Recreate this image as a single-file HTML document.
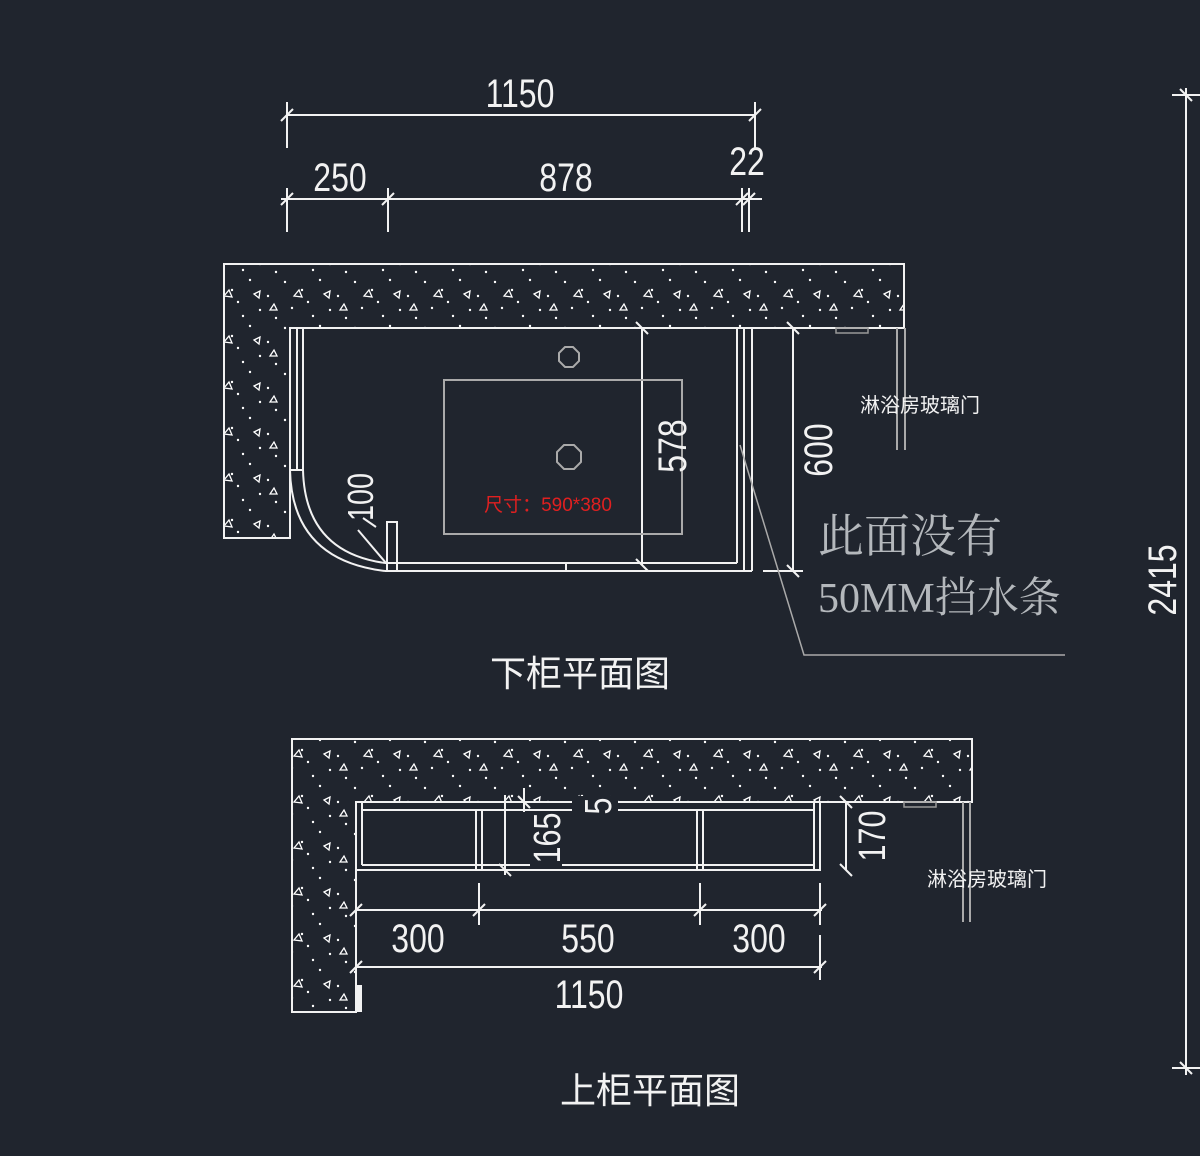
<!DOCTYPE html>
<html><head><meta charset="utf-8">
<style>
html,body{margin:0;padding:0;background:#20252e;}
svg{display:block}
.d{font-family:"Liberation Sans","Noto Sans CJK SC",sans-serif;fill:none;stroke:#f2f2f2;stroke-width:2;font-size:40px;}
.t{font-family:"Liberation Sans",sans-serif;fill:#f2f2f2;font-size:40px;}
.c{font-family:"Liberation Sans","Noto Sans CJK SC",sans-serif;fill:#f2f2f2;}
</style></head><body>
<svg width="1200" height="1156" viewBox="0 0 1200 1156" xmlns="http://www.w3.org/2000/svg">
<defs>
<pattern id="sp" width="70" height="46" patternUnits="userSpaceOnUse">
<circle cx="5" cy="6" r="1.2" fill="#fff"/><circle cx="22" cy="14" r="1.2" fill="#fff"/>
<circle cx="40" cy="4" r="1.2" fill="#fff"/><circle cx="58" cy="20" r="1.2" fill="#fff"/>
<circle cx="12" cy="32" r="1.2" fill="#fff"/><circle cx="33" cy="40" r="1.2" fill="#fff"/>
<circle cx="50" cy="34" r="1.2" fill="#fff"/><circle cx="66" cy="42" r="1.2" fill="#fff"/>
<circle cx="28" cy="26" r="1.2" fill="#fff"/>
<path d="M44 18 l6 -3 l-1 7 z" fill="none" stroke="#fff" stroke-width="1.3"/>
<path d="M14 20 l5 -6 l3 7 z" fill="none" stroke="#fff" stroke-width="1.3"/>
<path d="M60 34 l4 -6 l3 6 z" fill="none" stroke="#fff" stroke-width="1.3"/>
</pattern>
</defs>
<rect width="1200" height="1156" fill="#20252e"/>

<!-- LOWER: concrete L -->
<path d="M224 264 H904 V328 H290 V538 H224 Z" fill="url(#sp)" stroke="#f2f2f2" stroke-width="2"/>
<g class="d">
<line x1="287" y1="115" x2="755" y2="115"/>
<line x1="287" y1="102" x2="287" y2="148"/><line x1="755" y1="102" x2="755" y2="148"/>
<line x1="281" y1="121" x2="293" y2="109"/><line x1="749" y1="121" x2="761" y2="109"/>
<line x1="281" y1="199" x2="762" y2="199"/>
<line x1="287" y1="188" x2="287" y2="232"/><line x1="388" y1="188" x2="388" y2="232"/>
<line x1="742" y1="188" x2="742" y2="232"/><line x1="749" y1="188" x2="749" y2="232"/>
<line x1="281" y1="205" x2="293" y2="193"/><line x1="382" y1="205" x2="394" y2="193"/>
<line x1="736" y1="205" x2="748" y2="193"/><line x1="743" y1="205" x2="755" y2="193"/>
<path d="M290 328 V470 H303 V328"/><line x1="297" y1="328" x2="297" y2="470"/>
<path d="M290 470 Q292 560 385 571"/><path d="M303 470 Q305 552 385 563"/>
<line x1="385" y1="571" x2="752" y2="571"/><line x1="385" y1="563" x2="737" y2="563"/>
<line x1="566" y1="563" x2="566" y2="571"/>
<rect x="387" y="522" width="10" height="49"/>
<line x1="737" y1="328" x2="737" y2="563"/><line x1="744" y1="328" x2="744" y2="571"/><line x1="752" y1="328" x2="752" y2="571"/>
<line x1="793" y1="328" x2="793" y2="571"/><line x1="763" y1="571" x2="803" y2="571"/>
<line x1="787" y1="322" x2="799" y2="334"/><line x1="787" y1="565" x2="799" y2="577"/>
<line x1="642" y1="328" x2="642" y2="565"/>
<line x1="636" y1="322" x2="648" y2="334"/><line x1="636" y1="559" x2="648" y2="571"/>
<line x1="363" y1="518" x2="376" y2="527"/><line x1="358" y1="530" x2="386" y2="563"/>
</g>
<rect x="444" y="380" width="238" height="154" fill="none" stroke="#aaa" stroke-width="2"/>
<polygon points="565,347 573,347 579,353 579,361 573,367 565,367 559,361 559,353" fill="none" stroke="#aaa" stroke-width="2"/>
<polygon points="564,445 574,445 581,452 581,462 574,469 564,469 557,462 557,452" fill="none" stroke="#aaa" stroke-width="2"/>
<line x1="897" y1="328" x2="897" y2="450" stroke="#aaa" stroke-width="2"/><line x1="905" y1="328" x2="905" y2="450" stroke="#aaa" stroke-width="2"/>
<rect x="836" y="328" width="32" height="5" fill="none" stroke="#999" stroke-width="1.5"/>
<polyline points="740,445 804,655 1065,655" fill="none" stroke="#aaa" stroke-width="1.5"/>

<g class="d">
<line x1="1186" y1="88" x2="1186" y2="1075"/>
<line x1="1172" y1="95" x2="1200" y2="95"/><line x1="1172" y1="1068" x2="1200" y2="1068"/>
<line x1="1180" y1="89" x2="1192" y2="101"/><line x1="1180" y1="1062" x2="1192" y2="1074"/>
</g>

<!-- UPPER -->
<path d="M292 739 H972 V802 H356 V1012 H292 Z" fill="url(#sp)" stroke="#f2f2f2" stroke-width="2"/>
<rect x="356" y="985" width="6" height="27" fill="#f2f2f2"/>
<g class="d">
<rect x="356" y="802" width="464" height="68"/>
<line x1="362" y1="810" x2="814" y2="810"/><line x1="362" y1="865" x2="814" y2="865"/>
<line x1="362" y1="802" x2="362" y2="865"/><line x1="814" y1="802" x2="814" y2="870"/>
<line x1="476" y1="810" x2="476" y2="870"/><line x1="482" y1="810" x2="482" y2="870"/>
<line x1="697" y1="810" x2="697" y2="870"/><line x1="703" y1="810" x2="703" y2="870"/>
<line x1="846" y1="802" x2="846" y2="870"/>
<line x1="840" y1="796" x2="852" y2="808"/><line x1="840" y1="864" x2="852" y2="876"/>
<line x1="505" y1="795" x2="505" y2="875"/>
<line x1="499" y1="864" x2="511" y2="876"/><line x1="518" y1="796" x2="530" y2="808"/>
<line x1="524" y1="788" x2="524" y2="812"/>
<line x1="356" y1="910" x2="822" y2="910"/><line x1="356" y1="967" x2="822" y2="967"/>
<line x1="479" y1="883" x2="479" y2="925"/><line x1="700" y1="883" x2="700" y2="925"/>
<line x1="820" y1="883" x2="820" y2="925"/><line x1="820" y1="935" x2="820" y2="980"/>
<line x1="350" y1="916" x2="362" y2="904"/><line x1="473" y1="916" x2="485" y2="904"/>
<line x1="694" y1="916" x2="706" y2="904"/><line x1="814" y1="916" x2="826" y2="904"/>
<line x1="350" y1="973" x2="362" y2="961"/><line x1="814" y1="973" x2="826" y2="961"/>
</g>
<!-- gaps behind texts -->
<rect x="530" y="812" width="32" height="56" fill="#20252e"/>
<rect x="572" y="796" width="46" height="20" fill="#20252e"/>
<line x1="963" y1="802" x2="963" y2="922" stroke="#aaa" stroke-width="2"/><line x1="970" y1="802" x2="970" y2="922" stroke="#aaa" stroke-width="2"/>
<rect x="904" y="802" width="32" height="5" fill="none" stroke="#999" stroke-width="1.5"/>

<g class="t">
<text x="520" y="107" text-anchor="middle" transform="translate(520 0) scale(0.8 1) translate(-520 0)">1150</text>
<text x="340" y="191" text-anchor="middle" transform="translate(340 0) scale(0.8 1) translate(-340 0)">250</text>
<text x="566" y="191" text-anchor="middle" transform="translate(566 0) scale(0.8 1) translate(-566 0)">878</text>
<text x="747" y="175" text-anchor="middle" transform="translate(747 0) scale(0.8 1) translate(-747 0)">22</text>
<text transform="translate(686 446) rotate(-90) scale(0.8 1)" text-anchor="middle">578</text>
<text transform="translate(832 450) rotate(-90) scale(0.8 1)" text-anchor="middle">600</text>
<text transform="translate(373 497) rotate(-90) scale(0.8 1)" text-anchor="middle" style="font-size:36px">100</text>
<text transform="translate(1176 580) rotate(-90) scale(0.8 1)" text-anchor="middle">2415</text>
<text transform="translate(560 838) rotate(-90) scale(0.8 1)" text-anchor="middle" style="font-size:38px">165</text>
<text transform="translate(885 836) rotate(-90) scale(0.8 1)" text-anchor="middle" style="font-size:38px">170</text>
<text transform="translate(611 806) rotate(-90) scale(0.8 1)" text-anchor="middle" style="font-size:38px">5</text>
<text x="418" y="952" text-anchor="middle" transform="translate(418 0) scale(0.8 1) translate(-418 0)">300</text>
<text x="588" y="952" text-anchor="middle" transform="translate(588 0) scale(0.8 1) translate(-588 0)">550</text>
<text x="759" y="952" text-anchor="middle" transform="translate(759 0) scale(0.8 1) translate(-759 0)">300</text>
<text x="589" y="1008" text-anchor="middle" transform="translate(589 0) scale(0.8 1) translate(-589 0)">1150</text>
</g>
<text x="548" y="511" text-anchor="middle" style="font-family:'Liberation Sans','Noto Sans CJK SC',sans-serif;font-size:19px;fill:#e02020">尺寸：590*380</text>
<text x="920" y="412" text-anchor="middle" class="c" style="font-size:20px">淋浴房玻璃门</text>
<text x="987" y="886" text-anchor="middle" class="c" style="font-size:20px">淋浴房玻璃门</text>
<text x="818" y="552" style="font-family:'Liberation Serif','Noto Serif CJK SC',serif;font-size:46px;fill:#b4b8bc">此面没有</text>
<text x="818" y="612" style="font-family:'Liberation Serif','Noto Serif CJK SC',serif;font-size:42px;fill:#b4b8bc">50MM挡水条</text>
<text x="580" y="686" text-anchor="middle" class="c" style="font-size:36px">下柜平面图</text>
<text x="650" y="1103" text-anchor="middle" class="c" style="font-size:36px">上柜平面图</text>
</svg>
</body></html>
